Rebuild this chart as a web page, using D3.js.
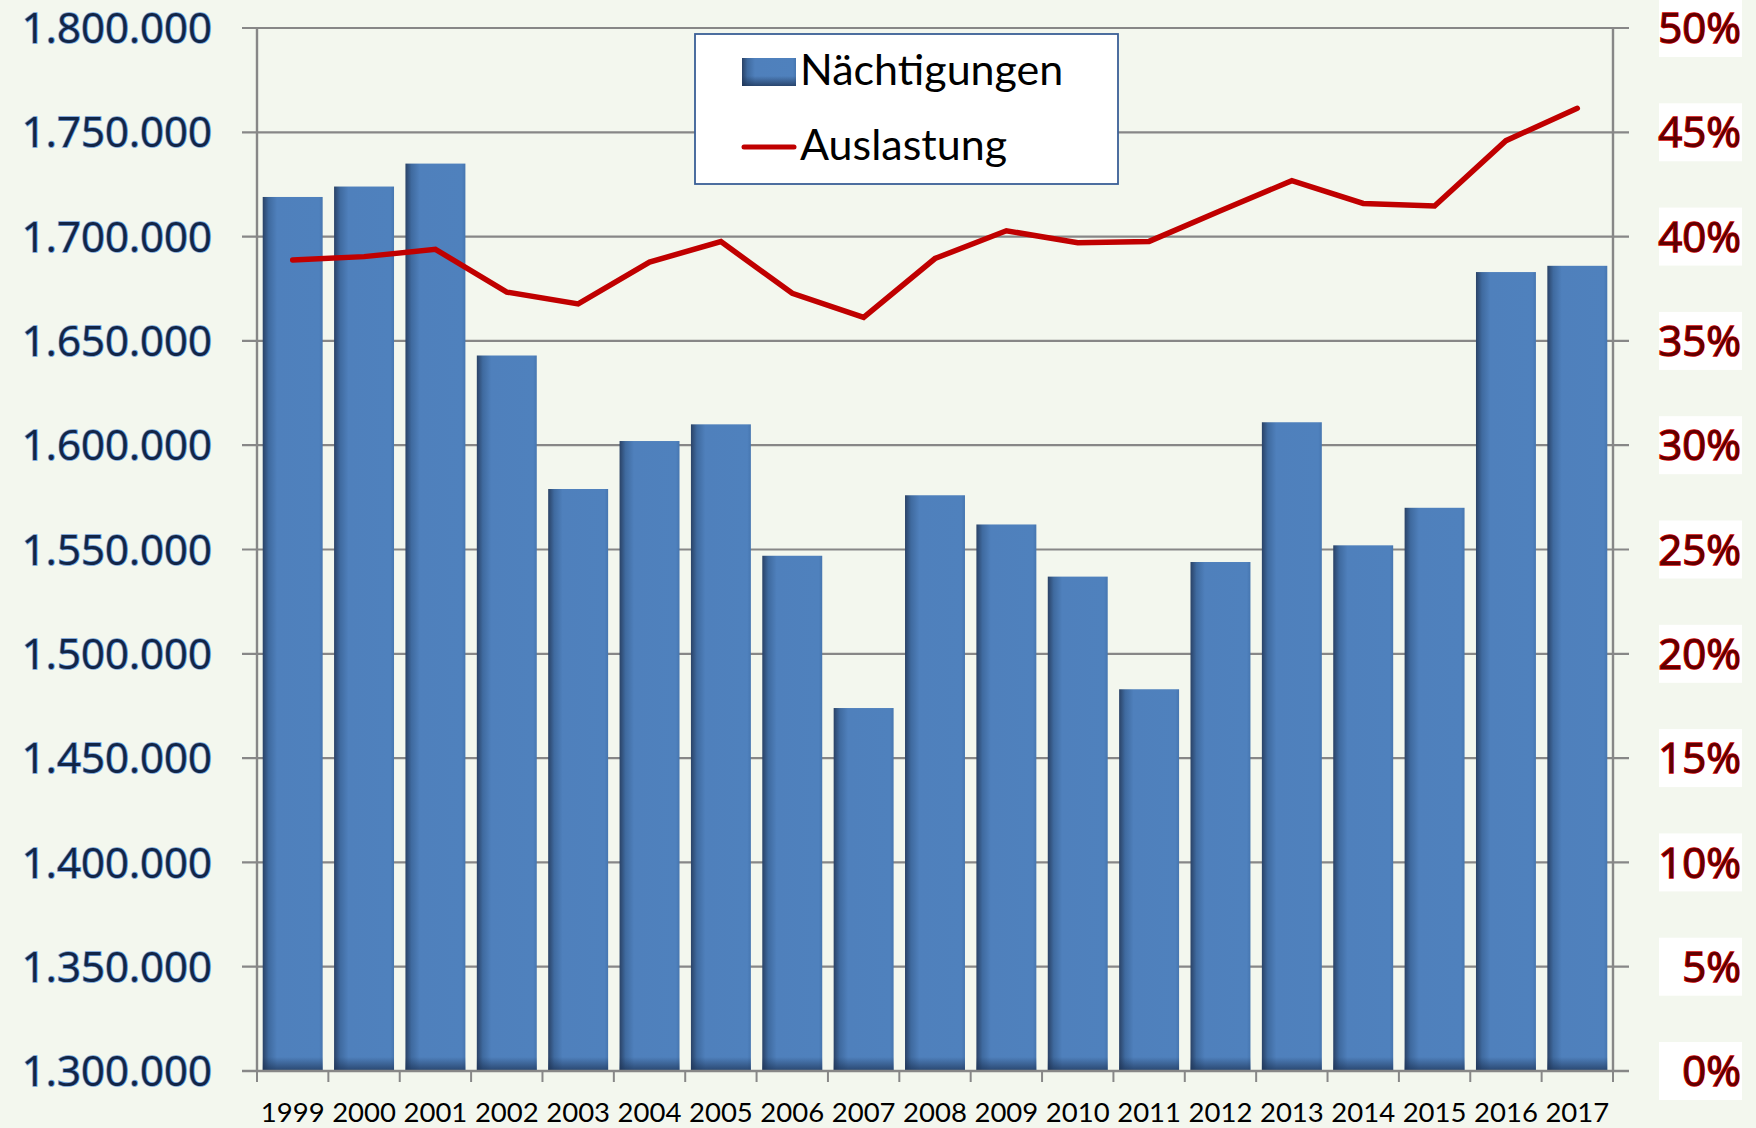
<!DOCTYPE html>
<html>
<head>
<meta charset="utf-8">
<script src="https://cdn.jsdelivr.net/npm/d3@7"></script>
<style>
  html, body { margin: 0; padding: 0; background: #f3f7ee; }
  svg { display: block; }
</style>
</head>
<body>
<div id="chart"></div>
<script>
const years = ["1999","2000","2001","2002","2003","2004","2005","2006","2007","2008",
  "2009","2010","2011","2012","2013","2014","2015","2016","2017"];
const naechtigungen = [1719000, 1724000, 1735000, 1643000, 1579000, 1602000, 1610000,
  1547000, 1474000, 1576000, 1562000, 1537000, 1483000, 1544000, 1611000, 1552000,
  1570000, 1683000, 1686000];
const auslastung = [0.3888, 0.3904, 0.3939, 0.3734, 0.3677, 0.3878, 0.3976, 0.3728,
  0.3613, 0.3895, 0.4028, 0.3971, 0.3977, 0.4124, 0.4268, 0.4159, 0.4147, 0.4460, 0.4615];
const leftTicks = [1300000, 1350000, 1400000, 1450000, 1500000, 1550000, 1600000,
  1650000, 1700000, 1750000, 1800000];
const rightTicks = [0, 0.05, 0.1, 0.15, 0.2, 0.25, 0.3, 0.35, 0.4, 0.45, 0.5];
const seriesNames = ["Nächtigungen", "Auslastung"];

const width = 1756, height = 1128;
const plotLeft = 257, plotRight = 1613, plotTop = 28, plotBottom = 1071;

const de = d3.formatLocale({ decimal: ",", thousands: ".", grouping: [3], currency: ["", " €"] });
const fmtNum = de.format(",");
const fmtPct = d3.format(".0%");

const svg = d3.select("#chart").append("svg")
  .attr("width", width).attr("height", height);

svg.append("rect").attr("width", width).attr("height", height).attr("fill", "#f3f7ee");

const defs = svg.append("defs");
const grad = defs.append("linearGradient").attr("id", "barGrad")
  .attr("x1", "0").attr("x2", "1").attr("y1", "0").attr("y2", "0");
grad.append("stop").attr("offset", "0%").attr("stop-color", "#2a4266");
grad.append("stop").attr("offset", "10%").attr("stop-color", "#3f6a9f");
grad.append("stop").attr("offset", "24%").attr("stop-color", "#4f80bc");
grad.append("stop").attr("offset", "94%").attr("stop-color", "#4f81bd");
grad.append("stop").attr("offset", "100%").attr("stop-color", "#4676b0");

const shade = defs.append("linearGradient").attr("id", "barShade")
  .attr("x1", "0").attr("x2", "0").attr("y1", "0").attr("y2", "1");
shade.append("stop").attr("offset", "0%").attr("stop-color", "#1c3254").attr("stop-opacity", 0);
shade.append("stop").attr("offset", "100%").attr("stop-color", "#1c3254").attr("stop-opacity", 0.75);

const x = d3.scaleBand().domain(years).range([plotLeft, plotRight])
  .paddingInner(0.16).paddingOuter(0.08);

const yL = d3.scaleLinear().domain([1300000, 1800000]).range([plotBottom, plotTop]);
const yR = d3.scaleLinear().domain([0, 0.5]).range([plotBottom, plotTop]);

const gridColor = "#878787";

// gridlines (extend out as tick marks on both sides)
svg.append("g").selectAll("line")
  .data(leftTicks.slice(1))
  .enter().append("line")
  .attr("x1", plotLeft - 15).attr("x2", plotRight + 16)
  .attr("y1", (d) => yL(d)).attr("y2", (d) => yL(d))
  .attr("stroke", gridColor).attr("stroke-width", 2.2);

// bars
const bars = svg.append("g").selectAll("g")
  .data(years)
  .enter().append("g");

bars.append("rect")
  .attr("x", (d) => x(d))
  .attr("y", (d, i) => yL(naechtigungen[i]))
  .attr("width", x.bandwidth())
  .attr("height", (d, i) => yL(1300000) - yL(naechtigungen[i]))
  .attr("fill", "url(#barGrad)");

bars.append("rect")
  .attr("x", (d) => x(d))
  .attr("y", yL(1300000) - 14)
  .attr("width", x.bandwidth())
  .attr("height", 14)
  .attr("fill", "url(#barShade)");

// axes lines
svg.append("line").attr("x1", plotLeft).attr("x2", plotLeft).attr("y1", plotTop).attr("y2", plotBottom)
  .attr("stroke", gridColor).attr("stroke-width", 2.4);
svg.append("line").attr("x1", plotRight).attr("x2", plotRight).attr("y1", plotTop).attr("y2", plotBottom + 1)
  .attr("stroke", gridColor).attr("stroke-width", 2.4);
svg.append("line").attr("x1", plotLeft - 15).attr("x2", plotRight + 16).attr("y1", plotBottom).attr("y2", plotBottom)
  .attr("stroke", gridColor).attr("stroke-width", 2.6);

// x tick marks at band boundaries
const bounds = d3.range(years.length + 1).map((i) => plotLeft + i * x.step());
svg.append("g").selectAll("line")
  .data(bounds)
  .enter().append("line")
  .attr("x1", (d) => d).attr("x2", (d) => d)
  .attr("y1", plotBottom).attr("y2", plotBottom + 11)
  .attr("stroke", gridColor).attr("stroke-width", 2);

// x labels
svg.append("g")
  .attr("transform", `translate(0,${plotBottom})`)
  .call(d3.axisBottom(x).tickSize(0).tickPadding(0))
  .call((g) => g.select(".domain").remove())
  .selectAll("text")
  .attr("y", 51)
  .attr("dy", 0)
  .attr("font-family", "Lato, sans-serif")
  .attr("font-size", 27.5)
  .attr("fill", "#000");

// left axis labels
svg.append("g").selectAll("text")
  .data(leftTicks)
  .enter().append("text")
  .attr("x", 212)
  .attr("y", (d) => yL(d))
  .attr("dy", "0.36em")
  .attr("text-anchor", "end")
  .attr("font-family", "'Open Sans', sans-serif")
  .attr("font-size", 42)
  .attr("fill", "#122546")
  .attr("stroke", "#6d9ed8")
  .attr("stroke-width", 1.6)
  .attr("paint-order", "stroke")
  .text((d) => fmtNum(d));

// right axis labels with white boxes
const rl = svg.append("g").selectAll("g")
  .data(rightTicks)
  .enter().append("g");
rl.append("rect")
  .attr("x", 1659)
  .attr("y", (d) => yR(d) - 29)
  .attr("width", 83)
  .attr("height", 58)
  .attr("fill", "#ffffff");
rl.append("text")
  .attr("x", 1741)
  .attr("y", (d) => yR(d))
  .attr("dy", "0.36em")
  .attr("text-anchor", "end")
  .attr("font-family", "'Open Sans', sans-serif")
  .attr("font-size", 42)
  .attr("fill", "#5e0000")
  .attr("stroke", "#d00000")
  .attr("stroke-width", 1.5)
  .attr("paint-order", "stroke")
  .text((d) => fmtPct(d));

// line
const line = d3.line()
  .x((d, i) => x(years[i]) + x.bandwidth() / 2)
  .y((d) => yR(d));

svg.append("path")
  .datum(auslastung)
  .attr("d", line)
  .attr("fill", "none")
  .attr("stroke", "#c00000")
  .attr("stroke-width", 5.5)
  .attr("stroke-linejoin", "miter")
  .attr("stroke-linecap", "round");

// legend
const lg = svg.append("g");
lg.append("rect")
  .attr("x", 695).attr("y", 34).attr("width", 423).attr("height", 150)
  .attr("fill", "#ffffff").attr("stroke", "#3a5f96").attr("stroke-width", 1.8);
lg.append("rect")
  .attr("x", 742).attr("y", 58).attr("width", 54).attr("height", 28)
  .attr("fill", "url(#barGrad)");
lg.append("rect")
  .attr("x", 742).attr("y", 76).attr("width", 54).attr("height", 10)
  .attr("fill", "url(#barShade)");
lg.append("line")
  .attr("x1", 744).attr("x2", 794).attr("y1", 147).attr("y2", 147)
  .attr("stroke", "#c00000").attr("stroke-width", 5).attr("stroke-linecap", "round");
lg.selectAll("text.lab")
  .data(seriesNames)
  .enter().append("text")
  .attr("class", "lab")
  .attr("x", 800)
  .attr("y", (d, i) => (i === 0 ? 85 : 160))
  .attr("font-family", "Lato, sans-serif")
  .attr("font-size", 43)
  .attr("fill", "#000")
  .text((d) => d);
</script>
</body>
</html>
